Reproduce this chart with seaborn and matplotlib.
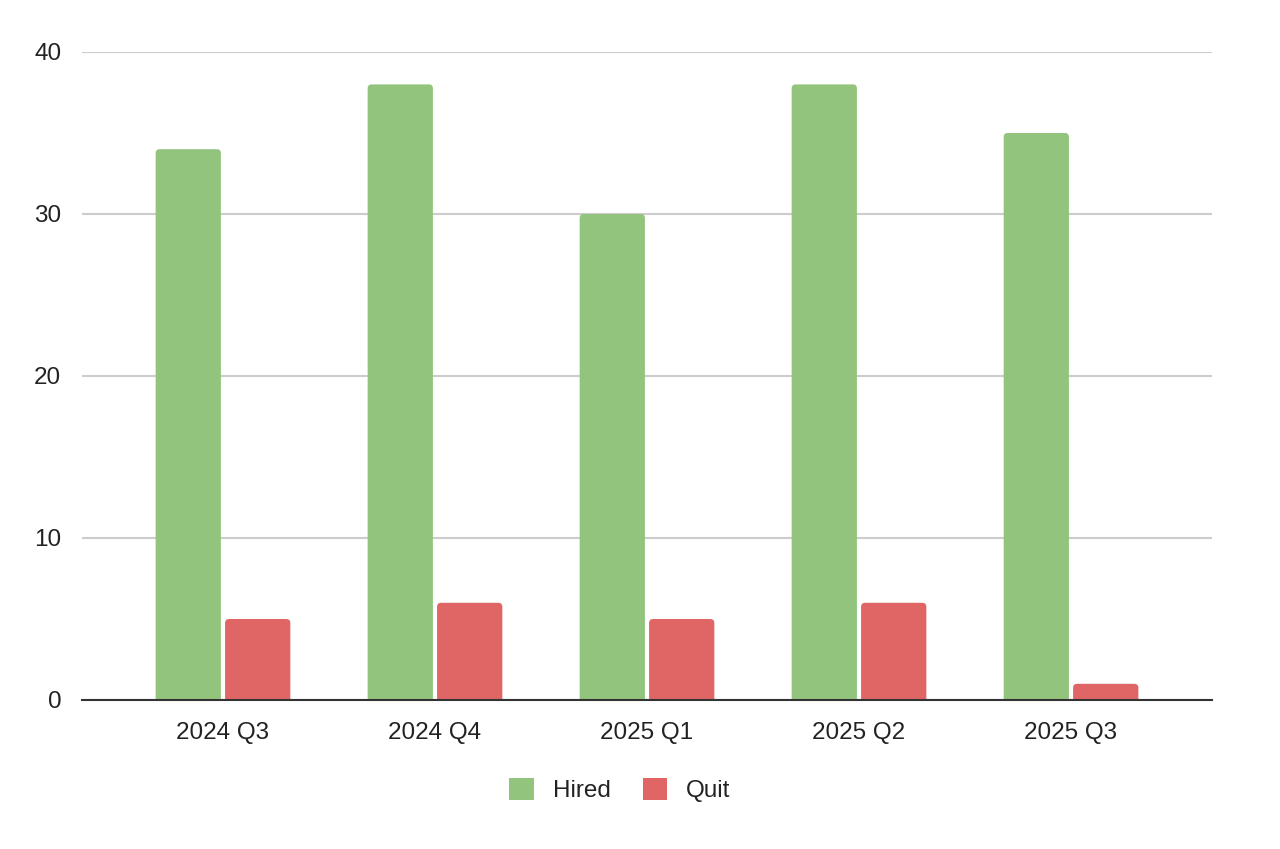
import matplotlib
matplotlib.use("Agg")
import matplotlib.pyplot as plt
import seaborn as sns
import pandas as pd
from matplotlib.patches import Patch, FancyBboxPatch

quarters = ["2024 Q3", "2024 Q4", "2025 Q1", "2025 Q2", "2025 Q3"]
hired = [34, 38, 30, 38, 35]
quit_ = [5, 6, 5, 6, 1]
series_names = ["Hired", "Quit"]
colors = ["#93c47d", "#e06666"]

df = pd.DataFrame({
    "quarter": quarters * 2,
    "value": hired + quit_,
    "series": [series_names[0]] * len(quarters) + [series_names[1]] * len(quarters),
})

sns.set_theme(style="white")
plt.rcParams['font.family'] = ['Liberation Sans', 'DejaVu Sans']

fig = plt.figure(figsize=(12.8, 8.49), dpi=100)
ax = fig.add_axes([82/1280, 1-700/849, (1212-82)/1280, (700-52)/849])

sns.barplot(data=df, x="quarter", y="value", hue="series", palette=colors,
            width=0.655, gap=0.06, ax=ax, legend=False, saturation=1)

ax.set_ylim(0, 40)
ax.set_xlim(-0.665, 4.665)

# rounded top corners (about 4 px)
px_x = (1212 - 82) / (4.665 + 0.665)
px_y = (700 - 52) / 40.0
rx = 4.0 / px_x
ry = 4.0 / px_y
for p in list(ax.patches):
    x, y = p.get_x(), p.get_y()
    w, h = p.get_width(), p.get_height()
    fc = p.get_facecolor()
    p.remove()
    fb = FancyBboxPatch((x, y - ry), w, h + ry,
                        boxstyle=f"round,pad=0,rounding_size={rx}",
                        mutation_aspect=ry / rx, facecolor=fc, edgecolor="none",
                        zorder=2)
    ax.add_patch(fb)

ax.set_yticks([0, 10, 20, 30, 40])
ax.yaxis.grid(True, color="#cccccc", linewidth=1.5)
ax.set_axisbelow(True)
for s in ["top", "right", "left"]:
    ax.spines[s].set_visible(False)
ax.spines["bottom"].set_color("#333333")
ax.spines["bottom"].set_linewidth(1.5)
ax.spines["bottom"].set_zorder(5)
ax.tick_params(axis="both", length=0, labelsize=17.5, colors="#222222")
ax.tick_params(axis="x", pad=16)
ax.tick_params(axis="y", pad=15)
ax.set_xlabel("")
ax.set_ylabel("")

handles = [Patch(facecolor=c, edgecolor="none", label=n) for c, n in zip(colors, series_names)]
fig.legend(handles=handles, loc="center", bbox_to_anchor=(620/1280, 1-790/849), ncol=2,
           frameon=False, fontsize=17.5, handlelength=1.0, handleheight=1.0,
           handletextpad=0.8, columnspacing=1.3, labelcolor="#222222")

fig.savefig("out.png", dpi=100, facecolor="white")
